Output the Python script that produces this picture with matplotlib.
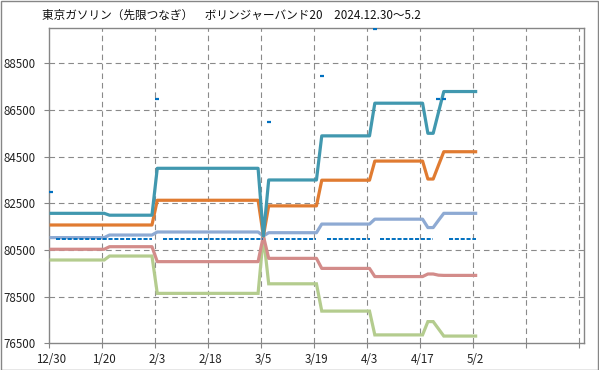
import numpy as np
import matplotlib
matplotlib.use('Agg')
import matplotlib.pyplot as plt
from matplotlib.patches import Rectangle

plt.rcParams['font.family'] = ['Noto Sans CJK JP', 'DejaVu Sans']

# 日付ラベル（10本ごと）
tick_labels = ['12/30', '1/20', '2/3', '2/18', '3/5', '3/19', '4/3', '4/17', '5/2', '', '']

# ボリンジャーバンド +2σ
upper2 = [82070, 82070, 82070, 82070, 82070, 82070, 82070, 82070, 82070, 82070,
          82070, 81990, 81990, 81990, 81990, 81990, 81990, 81990, 81990, 81990,
          84000, 84000, 84000, 84000, 84000, 84000, 84000, 84000, 84000, 84000,
          84000, 84000, 84000, 84000, 84000, 84000, 84000, 84000, 84000, 84000,
          81100, 83500, 83500, 83500, 83500, 83500, 83500, 83500, 83500, 83500,
          83500, 85390, 85390, 85390, 85390, 85390, 85390, 85390, 85390, 85390,
          85390, 86790, 86790, 86790, 86790, 86790, 86790, 86790, 86790, 86790,
          86790, 85500, 85500, 86400, 87290, 87290, 87290, 87290, 87290, 87290,
          87290]
# +1σ
upper1 = [81570, 81570, 81570, 81570, 81570, 81570, 81570, 81570, 81570, 81570,
          81570, 81570, 81570, 81570, 81570, 81570, 81570, 81570, 81570, 81570,
          82630, 82630, 82630, 82630, 82630, 82630, 82630, 82630, 82630, 82630,
          82630, 82630, 82630, 82630, 82630, 82630, 82630, 82630, 82630, 82630,
          81100, 82390, 82390, 82390, 82390, 82390, 82390, 82390, 82390, 82390,
          82390, 83490, 83490, 83490, 83490, 83490, 83490, 83490, 83490, 83490,
          83490, 84310, 84310, 84310, 84310, 84310, 84310, 84310, 84310, 84310,
          84310, 83540, 83540, 84130, 84710, 84710, 84710, 84710, 84710, 84710,
          84710]
# 移動平均20
middle = [81030, 81030, 81030, 81030, 81030, 81030, 81030, 81030, 81030, 81030,
          81030, 81140, 81140, 81140, 81140, 81140, 81140, 81140, 81140, 81140,
          81270, 81270, 81270, 81270, 81270, 81270, 81270, 81270, 81270, 81270,
          81270, 81270, 81270, 81270, 81270, 81270, 81270, 81270, 81270, 81270,
          81100, 81240, 81240, 81240, 81240, 81240, 81240, 81240, 81240, 81240,
          81240, 81610, 81610, 81610, 81610, 81610, 81610, 81610, 81610, 81610,
          81610, 81820, 81820, 81820, 81820, 81820, 81820, 81820, 81820, 81820,
          81820, 81460, 81460, 81770, 82070, 82070, 82070, 82070, 82070, 82070,
          82070]
# -1σ
lower1 = [80530, 80530, 80530, 80530, 80530, 80530, 80530, 80530, 80530, 80530,
          80530, 80640, 80640, 80640, 80640, 80640, 80640, 80640, 80640, 80640,
          80000, 80000, 80000, 80000, 80000, 80000, 80000, 80000, 80000, 80000,
          80000, 80000, 80000, 80000, 80000, 80000, 80000, 80000, 80000, 80000,
          81100, 80140, 80140, 80140, 80140, 80140, 80140, 80140, 80140, 80140,
          80140, 79710, 79710, 79710, 79710, 79710, 79710, 79710, 79710, 79710,
          79710, 79360, 79360, 79360, 79360, 79360, 79360, 79360, 79360, 79360,
          79360, 79470, 79470, 79420, 79410, 79410, 79410, 79410, 79410, 79410,
          79410]
# -2σ
lower2 = [80070, 80070, 80070, 80070, 80070, 80070, 80070, 80070, 80070, 80070,
          80070, 80240, 80240, 80240, 80240, 80240, 80240, 80240, 80240, 80240,
          78640, 78640, 78640, 78640, 78640, 78640, 78640, 78640, 78640, 78640,
          78640, 78640, 78640, 78640, 78640, 78640, 78640, 78640, 78640, 78640,
          81100, 79050, 79050, 79050, 79050, 79050, 79050, 79050, 79050, 79050,
          79050, 77880, 77880, 77880, 77880, 77880, 77880, 77880, 77880, 77880,
          77880, 76860, 76860, 76860, 76860, 76860, 76860, 76860, 76860, 76860,
          76860, 77430, 77430, 77120, 76810, 76810, 76810, 76810, 76810, 76810,
          76810]

# 終値（破線）と、外れた日の値（短いマーカー）
nan = np.nan
close_line = [nan,   80980, 80980, 80980, 80980, 80980, 80980, 80980, 80980, 80980,
              80980, 80980, 80980, 80980, 80980, 80980, 80980, 80980, 80980, 80980,
              nan,   80980, 80980, 80980, 80980, 80980, 80980, 80980, 80980, 80980,
              80980, 80980, 80980, 80980, 80980, 80980, 80980, 80980, 80980, 80980,
              80980, nan,   80980, 80980, 80980, 80980, 80980, 80980, 80980, 80980,
              80980, nan,   80980, 80980, 80980, 80980, 80980, 80980, 80980, 80980,
              80980, nan,   80980, 80980, 80980, 80980, 80980, 80980, 80980, 80980,
              80980, 80980, 80980, nan,   nan,   80980, 80980, 80980, 80980, 80980,
              80980]
close_mark_idx = [0, 20, 41, 51, 61, 73, 74]
close_mark_val = [82990, 86970, 86000, 87970, 89970, 86970, 86970]

x = np.arange(len(upper2)) + 0.5

fig = plt.figure(figsize=(5.99, 3.70), dpi=100)
ax = fig.add_axes([48.5 / 599, 1 - 343.3 / 370, (584.4 - 48.5) / 599, (343.3 - 28.3) / 370])

grid_kw = dict(color='#8a8a8a', lw=0.8, ls=(0, (5, 3.5)), zorder=0)
for v in range(10, 101, 10):
    ax.axvline(v, **grid_kw)
for v in range(78500, 89000, 2000):
    ax.axhline(v, **grid_kw)

lw = 2.3
ax.plot(x, lower2, color='#b4cc8e', lw=lw, solid_joinstyle='miter', zorder=3)
ax.plot(x, lower1, color='#d38c8a', lw=lw, zorder=3)
ax.plot(x, middle, color='#8eaad3', lw=lw, zorder=3)
ax.plot(x, upper1, color='#e07b31', lw=lw, zorder=4)
ax.plot(x, upper2, color='#4198af', lw=lw, zorder=5)
ax.plot(x, close_line, color='#0070c0', lw=1.4, ls=(0, (2.1, 0.9)), zorder=6)
ax.plot(np.array(close_mark_idx) + 0.5, close_mark_val, ls='none', marker='_',
        ms=3.2, mew=1.6, color='#0070c0', zorder=7)

ax.set_xlim(0, 101)
ax.set_ylim(76500, 90000)
ax.set_yticks(range(76500, 89000, 2000))
ax.set_yticklabels([str(v) for v in range(76500, 89000, 2000)])
ax.set_xticks(range(0, 101, 10))
ax.set_xticklabels([])
for i, lab in enumerate(tick_labels):
    ax.text(i * 10 + 0.5, -0.05, lab, transform=ax.get_xaxis_transform(),
            ha='center', va='center', fontsize=8.3, color='#222222')

for sp in ax.spines.values():
    sp.set_color('#868686')
    sp.set_linewidth(1.0)
ax.tick_params(axis='both', direction='out', length=3.5, width=0.8, color='#868686',
               labelsize=8.3, labelcolor='#222222')
ax.tick_params(axis='y', pad=6)

fig.text(41.7 / 599, 1 - 15 / 370, '東京ガソリン（先限つなぎ）　ボリンジャーバンド20　2024.12.30～5.2',
         ha='left', va='center', fontsize=8.4, color='#111111')

fig.patches.append(Rectangle((0.5 / 599, 0.5 / 370), 597.5 / 599, 368.5 / 370,
                             transform=fig.transFigure, fill=False,
                             edgecolor='#868686', lw=1.0))

fig.savefig('out.png', dpi=100)
